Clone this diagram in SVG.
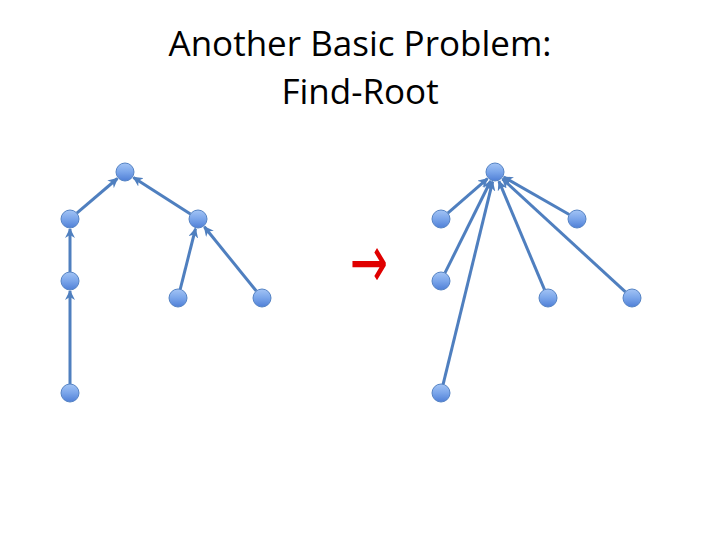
<svg xmlns="http://www.w3.org/2000/svg" width="720" height="540" viewBox="0 0 720 540">
<style>
.title{font-family:"Open Sans","Liberation Sans",sans-serif;font-size:35px;fill:#000;text-anchor:middle}
.edge{stroke:#4f7fbf;stroke-width:3;fill:none;marker-end:url(#ah)}
.node{fill:url(#g);stroke:#5583c4;stroke-width:1}
</style>
<defs>
<linearGradient id="g" x1="0" y1="0" x2="0" y2="1">
<stop offset="0" stop-color="#a3c4f5"/>
<stop offset="0.5" stop-color="#7aa5ea"/>
<stop offset="1" stop-color="#4f7fd6"/>
</linearGradient>
<marker id="ah" markerUnits="userSpaceOnUse" viewBox="0 0 10 10" refX="9" refY="5" markerWidth="10" markerHeight="10" orient="auto">
<path d="M0,0 L10,5 L0,10 L3,5 Z" fill="#4f7fbf"/>
</marker>
</defs>
<text class="title" x="360" y="56">Another Basic Problem:</text>
<text class="title" x="360" y="104">Find-Root</text>
<g id="connectors">
<line class="edge" x1="76.8" y1="213.2" x2="117.4" y2="178.5"/>
<line class="edge" x1="190.4" y1="214.1" x2="133.4" y2="177.4"/>
<line class="edge" x1="70" y1="272" x2="70" y2="229"/>
<line class="edge" x1="70" y1="384" x2="70" y2="291"/>
<line class="edge" x1="180.2" y1="289.3" x2="195.5" y2="228.7"/>
<line class="edge" x1="256.3" y1="291" x2="204.3" y2="226.8"/>
<line class="edge" x1="447.8" y1="213.1" x2="487.5" y2="178.6"/>
<line class="edge" x1="569.2" y1="214.5" x2="503.7" y2="177"/>
<line class="edge" x1="445" y1="272.9" x2="490.6" y2="181"/>
<line class="edge" x1="544.5" y1="289.7" x2="498.9" y2="181.2"/>
<line class="edge" x1="625.4" y1="291.9" x2="502.4" y2="178.8"/>
<line class="edge" x1="443.1" y1="384.3" x2="492.6" y2="181.7"/>
</g>
<g id="L-root"><circle class="node" cx="125" cy="172" r="9"/></g>
<g id="L-a"><circle class="node" cx="70" cy="219" r="9"/></g>
<g id="L-b"><circle class="node" cx="198" cy="219" r="9"/></g>
<g id="L-c"><circle class="node" cx="70" cy="281" r="9"/></g>
<g id="L-d"><circle class="node" cx="178" cy="298" r="9"/></g>
<g id="L-e"><circle class="node" cx="262" cy="298" r="9"/></g>
<g id="L-f"><circle class="node" cx="70" cy="393" r="9"/></g>
<g id="R-root"><circle class="node" cx="495" cy="172" r="9"/></g>
<g id="R-a"><circle class="node" cx="441" cy="219" r="9"/></g>
<g id="R-b"><circle class="node" cx="577" cy="219" r="9"/></g>
<g id="R-c"><circle class="node" cx="441" cy="281" r="9"/></g>
<g id="R-d"><circle class="node" cx="548" cy="298" r="9"/></g>
<g id="R-e"><circle class="node" cx="632" cy="298" r="9"/></g>
<g id="R-f"><circle class="node" cx="441" cy="393" r="9"/></g>
<g id="red-arrow"><text transform="translate(369,261.5) scale(1.75,2.9)" x="0" y="9" font-family="DejaVu Sans,sans-serif" font-size="26" fill="#e00000" text-anchor="middle">→</text></g>
</svg>
